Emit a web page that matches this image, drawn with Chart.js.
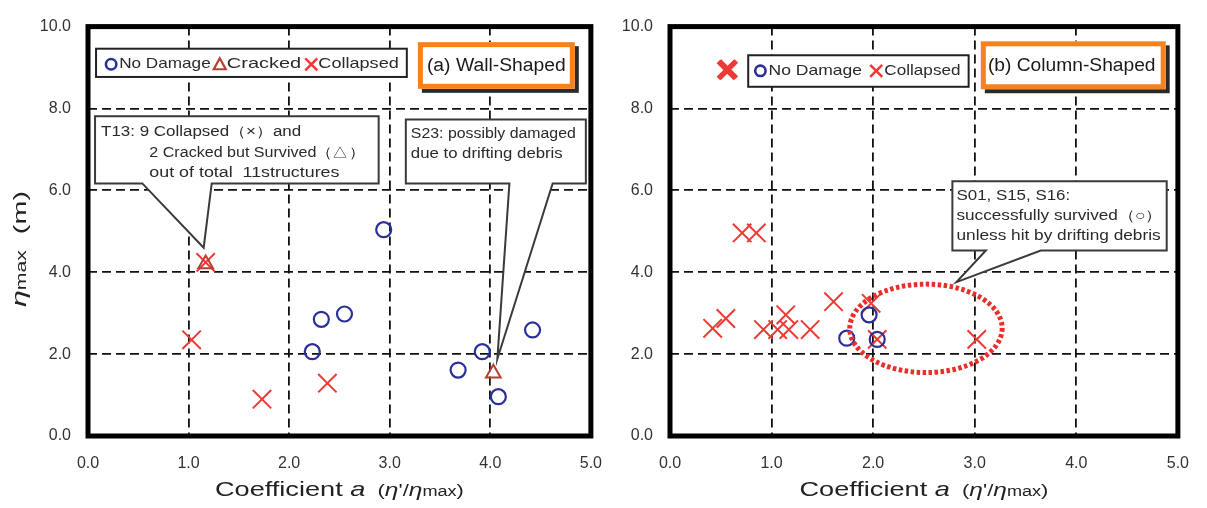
<!DOCTYPE html>
<html><head><meta charset="utf-8">
<script src="https://cdn.jsdelivr.net/npm/chart.js@4"></script>
<style>
html,body{margin:0;padding:0;background:#fff;width:1207px;height:508px;overflow:hidden;position:relative}
canvas{position:absolute;top:0}
#c1{left:0}
#c2{left:605px}
</style></head><body>
<canvas id="c1" width="620" height="508"></canvas>
<canvas id="c2" width="602" height="508"></canvas>
<script>
// ---- data ----
const xTicks = [0, 1, 2, 3, 4, 5];
const yTicks = [0, 2, 4, 6, 8, 10];

// (a) Wall-Shaped
const wallNoDamageX = [2.94, 2.32, 2.55, 2.23, 4.42, 3.92, 3.68, 4.08];
const wallNoDamageY = [5.04, 2.85, 2.98, 2.06, 2.59, 2.06, 1.61, 0.96];
const wallCrackedX = [1.17, 4.03];
const wallCrackedY = [4.20, 1.53];
const wallCollapsedX = [1.17, 1.03, 1.73, 2.38];
const wallCollapsedY = [4.24, 2.35, 0.90, 1.29];

// (b) Column-Shaped
const colNoDamageX = [1.96, 1.74, 2.04];
const colNoDamageY = [2.96, 2.39, 2.36];
const colCollapsedX = [0.71, 0.85, 0.42, 0.55, 0.92, 1.06, 1.14, 1.17, 1.38, 1.61, 1.98, 2.04, 3.02];
const colCollapsedY = [4.96, 4.96, 2.63, 2.87, 2.60, 2.60, 2.96, 2.60, 2.60, 3.28, 3.24, 2.36, 2.36];
// several overlapping collapsed points (drawn bold)
const colCollapsedStackX = [0.56, 0.57];
const colCollapsedStackY = [8.94, 8.95];

const BLUE = '#2b2f98', RED = '#ee3a36', BROWN = '#b8402f', ORANGE = '#f5821f';
const FONT = "'Liberation Sans', Arial, sans-serif";

function pts(xs, ys) { return xs.map((x, i) => ({ x: x, y: ys[i] })); }

function px(c, v) { return c.scales.x.getPixelForValue(v); }
function py(c, v) { return c.scales.y.getPixelForValue(v); }

function fitText(ctx, text, x, y, w, font, color, align) {
  ctx.save();
  ctx.font = font; ctx.fillStyle = color; ctx.textBaseline = 'middle'; ctx.textAlign = 'left';
  const m = ctx.measureText(text).width;
  const s = w / m;
  ctx.translate(x, y); ctx.scale(s, 1);
  ctx.fillText(text, align === 'center' ? -m / 2 : 0, 0);
  ctx.restore();
}
function richText(ctx, segs, cx, cy, w, rot) {
  ctx.save();
  ctx.translate(cx, cy);
  if (rot) ctx.rotate(rot);
  let total = 0;
  segs.forEach(s => { ctx.font = s.f; s.w = ctx.measureText(s.t).width; total += s.w; });
  const sc = w / total;
  ctx.scale(sc, 1);
  let x = -total / 2;
  ctx.textBaseline = 'alphabetic'; ctx.textAlign = 'left'; ctx.fillStyle = '#222';
  segs.forEach(s => { ctx.font = s.f; ctx.fillText(s.t, x, 7 + (s.dy || 0)); x += s.w; });
  ctx.restore();
}
function calloutBox(ctx, c, b) {
  const L = px(c, b.l), R = px(c, b.r), T = py(c, b.t), B = py(c, b.b);
  ctx.save();
  ctx.beginPath();
  ctx.moveTo(L, T); ctx.lineTo(R, T); ctx.lineTo(R, B);
  if (b.tip) {
    ctx.lineTo(px(c, b.b2), B);
    ctx.lineTo(px(c, b.tip[0]), py(c, b.tip[1]));
    ctx.lineTo(px(c, b.b1), B);
  }
  ctx.lineTo(L, B); ctx.closePath();
  ctx.fillStyle = '#fff'; ctx.fill();
  ctx.lineWidth = 2; ctx.strokeStyle = '#3a3a3a'; ctx.lineJoin = 'miter'; ctx.stroke();
  ctx.restore();
  (b.lines || []).forEach(ln => {
    fitText(ctx, ln.t, px(c, ln.x0), py(c, ln.y), px(c, ln.x1) - px(c, ln.x0), '14px ' + FONT, '#2a2a2a', 'left');
  });
}
function titleBox(ctx, c, b) {
  const L = px(c, b.l), R = px(c, b.r), T = py(c, b.t), B = py(c, b.b);
  ctx.save();
  ctx.fillStyle = '#2a2a2a';
  ctx.fillRect(L + 4, T + 4, R - L, B - T);
  ctx.fillStyle = '#fff';
  ctx.fillRect(L, T, R - L, B - T);
  ctx.lineWidth = 5; ctx.strokeStyle = ORANGE;
  ctx.strokeRect(L + 2.5, T + 2.5, R - L - 5, B - T - 5);
  ctx.restore();
  fitText(ctx, b.text, (px(c, b.x0) + px(c, b.x1)) / 2, (T + B) / 2 + 1, px(c, b.x1) - px(c, b.x0), '18px ' + FONT, '#1a1a1a', 'center');
}
function sym(ctx, kind, x, y) {
  ctx.save();
  if (kind === 'circle') {
    ctx.strokeStyle = BLUE; ctx.lineWidth = 2.6;
    ctx.beginPath(); ctx.arc(x, y, 5.2, 0, Math.PI * 2); ctx.stroke();
  } else if (kind === 'tri') {
    ctx.strokeStyle = BROWN; ctx.lineWidth = 2.2;
    ctx.beginPath(); ctx.moveTo(x, y - 6); ctx.lineTo(x + 6, y + 5); ctx.lineTo(x - 6, y + 5); ctx.closePath(); ctx.stroke();
  } else {
    ctx.strokeStyle = RED; ctx.lineWidth = 2.5;
    ctx.beginPath(); ctx.moveTo(x - 6, y - 6); ctx.lineTo(x + 6, y + 6); ctx.moveTo(x + 6, y - 6); ctx.lineTo(x - 6, y + 6); ctx.stroke();
  }
  ctx.restore();
}
function legendBox(ctx, c, lg) {
  const L = px(c, lg.l), R = px(c, lg.r), T = py(c, lg.t), B = py(c, lg.b);
  ctx.save();
  ctx.fillStyle = '#fff'; ctx.fillRect(L, T, R - L, B - T);
  ctx.lineWidth = 2; ctx.strokeStyle = '#222'; ctx.strokeRect(L, T, R - L, B - T);
  ctx.restore();
  const yy = py(c, lg.y);
  lg.items.forEach(it => {
    sym(ctx, it.s, px(c, it.sx), yy);
    fitText(ctx, it.t, px(c, it.x0), yy, px(c, it.x1) - px(c, it.x0), '15px ' + FONT, '#2a2a2a', 'left');
  });
}

function makeChart(id, datasets, yAxisWidth, padRight, deco) {
  const plugin = {
    id: 'deco',
    beforeDatasetsDraw(c) { deco.before(c.ctx, c); },
    afterDatasetsDraw(c) {
      const ctx = c.ctx, a = c.chartArea;
      if (deco.after) deco.after(ctx, c);
      ctx.save();
      ctx.lineWidth = 5; ctx.strokeStyle = '#000';
      ctx.strokeRect(a.left, a.top, a.right - a.left, a.bottom - a.top);
      ctx.restore();
      const cx = (a.left + a.right) / 2;
      richText(ctx, [
        { t: 'Coefficient ', f: '21px ' + FONT },
        { t: 'a', f: 'italic 21px ' + FONT },
        { t: '  (', f: '17px ' + FONT },
        { t: 'η', f: 'italic 19px ' + FONT },
        { t: "'/", f: '17px ' + FONT },
        { t: 'η', f: 'italic 19px ' + FONT },
        { t: 'max', f: '14px ' + FONT },
        { t: ')', f: '17px ' + FONT }
      ], cx, 489, 249, 0);
      if (deco.ytitle) {
        richText(ctx, [
          { t: 'η', f: 'italic 20px ' + FONT },
          { t: 'max', f: '14px ' + FONT },
          { t: '  (m)', f: '19px ' + FONT }
        ], 19, 249, 116, -Math.PI / 2);
      }
    }
  };
  return new Chart(document.getElementById(id), {
    type: 'scatter',
    data: { datasets: datasets },
    options: {
      responsive: false, animation: false, events: [],
      layout: { padding: { left: 0, top: 21, right: padRight, bottom: 0 } },
      plugins: { legend: { display: false }, tooltip: { enabled: false } },
      scales: {
        x: {
          type: 'linear', min: 0, max: 5,
          afterBuildTicks: s => { s.ticks = xTicks.map(v => ({ value: v })); },
          afterFit: s => { s.height = 72; },
          ticks: { callback: v => Number(v).toFixed(1), font: { family: FONT, size: 16 }, color: '#333', padding: 18, maxRotation: 0, autoSkip: false },
          grid: { color: '#111', lineWidth: 1.8, drawTicks: false },
          border: { display: false, dash: [9, 5] }
        },
        y: {
          type: 'linear', min: 0, max: 10,
          afterBuildTicks: s => { s.ticks = yTicks.map(v => ({ value: v })); },
          afterFit: s => { s.width = yAxisWidth; },
          ticks: { callback: v => Number(v).toFixed(1), font: { family: FONT, size: 16 }, color: '#333', padding: 17, autoSkip: false },
          grid: { color: '#111', lineWidth: 1.8, drawTicks: false },
          border: { display: false, dash: [9, 5] }
        }
      }
    },
    plugins: [plugin]
  });
}

const circleDs = (d) => ({ data: d, pointStyle: 'circle', pointRadius: 7.5, borderColor: BLUE, borderWidth: 2.2, backgroundColor: 'rgba(0,0,0,0)' });
const crossDs = (d, w, r) => ({ data: d, pointStyle: 'crossRot', pointRadius: r || 13, borderColor: RED, borderWidth: w || 2, backgroundColor: RED });
const triDs = (d) => ({ data: d, pointStyle: 'triangle', pointRadius: 8.5, borderColor: BROWN, borderWidth: 2, backgroundColor: 'rgba(0,0,0,0)' });

makeChart('c1', [
  circleDs(pts(wallNoDamageX, wallNoDamageY)),
  triDs(pts(wallCrackedX, wallCrackedY)),
  crossDs(pts(wallCollapsedX, wallCollapsedY))
], 88, 23, {
  ytitle: true,
  before(ctx, c) {
    legendBox(ctx, c, {
      l: 0.08, r: 3.17, t: 9.46, b: 8.77, y: 9.08,
      items: [
        { s: 'circle', sx: 0.23, t: 'No Damage', x0: 0.31, x1: 1.22 },
        { s: 'tri', sx: 1.31, t: 'Cracked', x0: 1.38, x1: 2.12 },
        { s: 'x', sx: 2.22, t: 'Collapsed', x0: 2.29, x1: 3.09 }
      ]
    });
    titleBox(ctx, c, { l: 3.28, r: 4.84, t: 9.62, b: 8.48, text: '(a) Wall-Shaped', x0: 3.37, x1: 4.75 });
    calloutBox(ctx, c, {
      l: 0.07, r: 2.89, t: 7.81, b: 6.17, b1: 0.54, b2: 1.23, tip: [1.15, 4.6],
      lines: [
        { t: 'T13: 9 Collapsed（×）and', x0: 0.13, x1: 2.12, y: 7.42 },
        { t: '2 Cracked but Survived（△）', x0: 0.61, x1: 2.75, y: 6.92 },
        { t: 'out of total  11structures', x0: 0.61, x1: 2.50, y: 6.42 }
      ]
    });
    calloutBox(ctx, c, {
      l: 3.16, r: 4.95, t: 7.73, b: 6.17, b1: 4.19, b2: 4.62, tip: [4.07, 1.88],
      lines: [
        { t: 'S23: possibly damaged', x0: 3.21, x1: 4.85, y: 7.37 },
        { t: 'due to drifting debris', x0: 3.21, x1: 4.72, y: 6.89 }
      ]
    });
  }
});

makeChart('c2', [
  circleDs(pts(colNoDamageX, colNoDamageY)),
  crossDs(pts(colCollapsedX, colCollapsedY)),
  crossDs(pts(colCollapsedStackX, colCollapsedStackY), 5, 12)
], 65, 19, {
  ytitle: false,
  before(ctx, c) {
    legendBox(ctx, c, {
      l: 0.77, r: 2.94, t: 9.30, b: 8.53, y: 8.92,
      items: [
        { s: 'circle', sx: 0.89, t: 'No Damage', x0: 0.97, x1: 1.89 },
        { s: 'x', sx: 2.03, t: 'Collapsed', x0: 2.11, x1: 2.86 }
      ]
    });
    titleBox(ctx, c, { l: 3.06, r: 4.88, t: 9.64, b: 8.47, text: '(b) Column-Shaped', x0: 3.13, x1: 4.78 });
    calloutBox(ctx, c, {
      l: 2.78, r: 4.89, t: 6.22, b: 4.53, b1: 3.11, b2: 3.65, tip: [2.82, 3.76],
      lines: [
        { t: 'S01, S15, S16:', x0: 2.82, x1: 3.94, y: 5.86 },
        { t: 'successfully survived（○）', x0: 2.82, x1: 4.85, y: 5.37 },
        { t: 'unless hit by drifting debris', x0: 2.82, x1: 4.83, y: 4.89 }
      ]
    });
  },
  after(ctx, c) {
    const cx = px(c, 2.52), cy = py(c, 2.63);
    const rx = px(c, 2.52 + 0.75) - cx, ry = cy - py(c, 2.63 + 1.08);
    ctx.save();
    ctx.strokeStyle = '#ea2f2a'; ctx.lineWidth = 5; ctx.setLineDash([3.5, 2.5]);
    ctx.beginPath(); ctx.ellipse(cx, cy, rx, ry, 0, 0, Math.PI * 2); ctx.stroke();
    ctx.restore();
  }
});
</script>
</body></html>
